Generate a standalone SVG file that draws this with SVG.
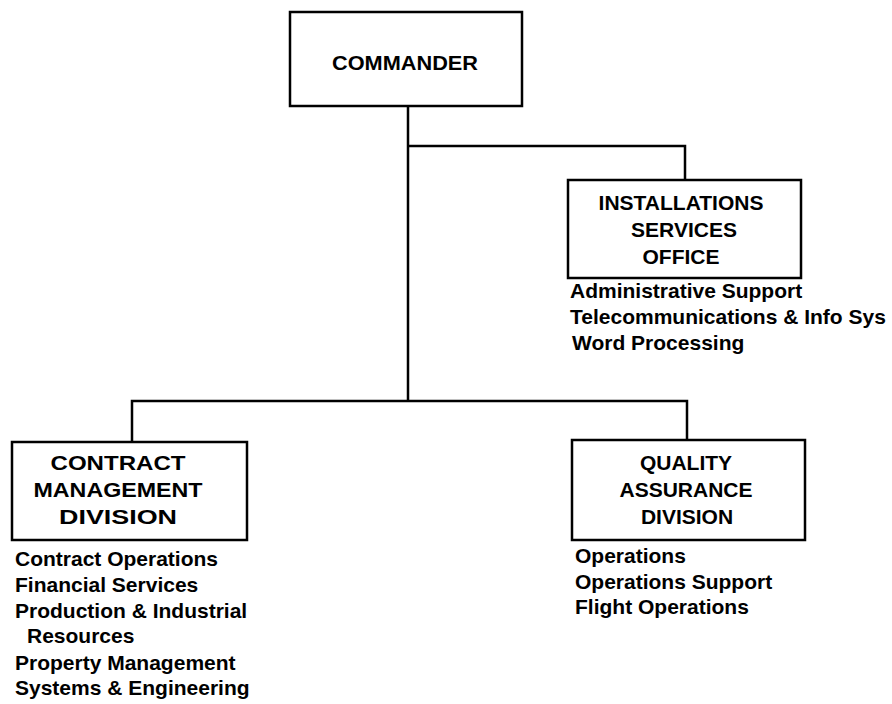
<svg xmlns="http://www.w3.org/2000/svg" width="892" height="704" viewBox="0 0 892 704">
<style>
.box{fill:#fff;stroke:#000;stroke-width:2.5}
.ln{fill:none;stroke:#000;stroke-width:2.5}
.t{font-family:"Liberation Sans",Arial,sans-serif;font-weight:bold;font-size:21px;fill:#000}
.c{text-anchor:middle}
</style>
<rect width="892" height="704" fill="#fff"/>
<g id="connectors">
<path class="ln" d="M408 106 V401"/>
<path class="ln" d="M408 146 H685 V180"/>
<path class="ln" d="M132 442 V401 H687 V440"/>
</g>
<g id="commander">
<rect class="box" x="290" y="12" width="232" height="94"/>
<text class="t c" x="405" y="70" textLength="146" lengthAdjust="spacingAndGlyphs">COMMANDER</text>
</g>
<g id="installations">
<rect class="box" x="568" y="180" width="233" height="98"/>
<text class="t c" x="681" y="210">INSTALLATIONS</text>
<text class="t c" x="684" y="237">SERVICES</text>
<text class="t c" x="681" y="264">OFFICE</text>
<text class="t" x="570" y="298">Administrative Support</text>
<text class="t" x="570" y="324">Telecommunications &amp; Info Sys</text>
<text class="t" x="572" y="350">Word Processing</text>
</g>
<g id="contract">
<rect class="box" x="12" y="442" width="235" height="98"/>
<text class="t c" x="118" y="470" textLength="135" lengthAdjust="spacingAndGlyphs">CONTRACT</text>
<text class="t c" x="118" y="497" textLength="169" lengthAdjust="spacingAndGlyphs">MANAGEMENT</text>
<text class="t c" x="118" y="524" textLength="118" lengthAdjust="spacingAndGlyphs">DIVISION</text>
<text class="t" x="15" y="566">Contract Operations</text>
<text class="t" x="15" y="592">Financial Services</text>
<text class="t" x="15" y="618">Production &amp; Industrial</text>
<text class="t" x="27" y="643">Resources</text>
<text class="t" x="15" y="670">Property Management</text>
<text class="t" x="15" y="695">Systems &amp; Engineering</text>
</g>
<g id="quality">
<rect class="box" x="572" y="440" width="233" height="100"/>
<text class="t c" x="686" y="470">QUALITY</text>
<text class="t c" x="686" y="497">ASSURANCE</text>
<text class="t c" x="687" y="524">DIVISION</text>
<text class="t" x="575" y="563">Operations</text>
<text class="t" x="575" y="589">Operations Support</text>
<text class="t" x="575" y="614">Flight Operations</text>
</g>
</svg>
